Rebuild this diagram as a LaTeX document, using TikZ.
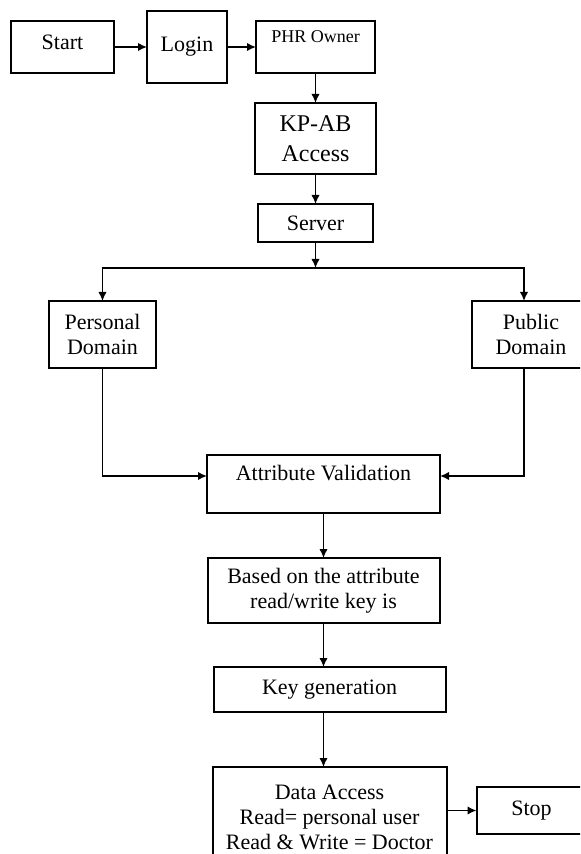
\documentclass[tikz,border=0pt]{standalone}
\usepackage{fontspec}
\setmainfont{Liberation Serif}
\usetikzlibrary{arrows.meta,positioning}

\begin{document}
\begin{tikzpicture}[
  node distance=15pt,
  flowbox/.style={
    draw=black,
    line width=1pt,
    inner sep=0pt,
    outer sep=0pt,
    align=center,
    font=\fontsize{11}{12.5}\selectfont
  },
  liftedbox/.style={flowbox, text height=7.5pt, text depth=#1},
  flowarrow/.style={-{Latex[length=4.5pt,width=4.2pt]}, line width=0.8pt, draw=black}
]
\useasboundingbox (0,0) rectangle (290pt,-427pt);
\clip (0,0) rectangle (290pt,-427pt);
\node[liftedbox=5pt, minimum width=51.5pt, minimum height=26pt] (start) at (31.25pt,-23.5pt) {Start};
\node[flowbox, minimum width=40pt, minimum height=36pt, right=16.5pt of start] (login) {Login};
\node[liftedbox=11.5pt, font=\fontsize{9}{11}\selectfont, minimum width=59.5pt, minimum height=26pt, right=14.5pt of login] (phr) {PHR Owner};
\node[flowbox, font=\fontsize{12}{15}\selectfont, minimum width=60.5pt, minimum height=35.5pt, below=of phr] (kpab) {KP-AB\\Access};
\node[flowbox, minimum width=57.5pt, minimum height=19pt, below=of kpab] (server) {Server};
\coordinate[below=13pt of server] (split);
\node[flowbox, minimum width=53.5pt, minimum height=33.5pt, below=16.5pt of split, xshift=-106.5pt] (personal) {Personal\\Domain};
\node[flowbox, minimum width=59pt, minimum height=33.5pt, below=16.5pt of split, xshift=107.75pt] (public) {Public\\Domain};
\node[liftedbox=11pt, minimum width=116.5pt, minimum height=29pt, below=93.5pt of split, xshift=4pt] (attr) {Attribute Validation};
\node[flowbox, minimum width=116pt, minimum height=32.5pt, below=22.5pt of attr] (based) {Based on the attribute\\read/write key is};
\node[flowbox, minimum width=116pt, minimum height=22.5pt, below=22pt of based, xshift=3pt] (keygen) {Key generation};
\node[flowbox, minimum width=117pt, minimum height=50pt, below=27.5pt of keygen] (data) {Data Access\\Read= personal user\\Read \& Write = Doctor};
\node[liftedbox=3pt, minimum width=55pt, minimum height=23.5pt, right=15pt of data, yshift=3.25pt] (stop) {Stop};
\draw[flowarrow] (start) -- (login);
\draw[flowarrow] (login) -- (phr);
\draw[flowarrow] (phr) -- (kpab);
\draw[flowarrow] (kpab) -- (server);
\draw[flowarrow] (server) -- (split);
\draw[flowarrow] (split) -| (personal);
\draw[flowarrow] (split) -| ([xshift=-3.5pt]public.north);
\draw[flowarrow] (personal) |- ([yshift=4pt]attr.west);
\draw[flowarrow] ([xshift=-3.5pt]public.south) |- ([yshift=4pt]attr.east);
\draw[flowarrow] (attr) -- (based);
\draw[flowarrow] (based) -- (based |- keygen.north);
\draw[flowarrow] (keygen.south -| based) -- (data.north -| based);
\draw[flowarrow] (data.east |- stop) -- (stop);
\end{tikzpicture}
\end{document}
